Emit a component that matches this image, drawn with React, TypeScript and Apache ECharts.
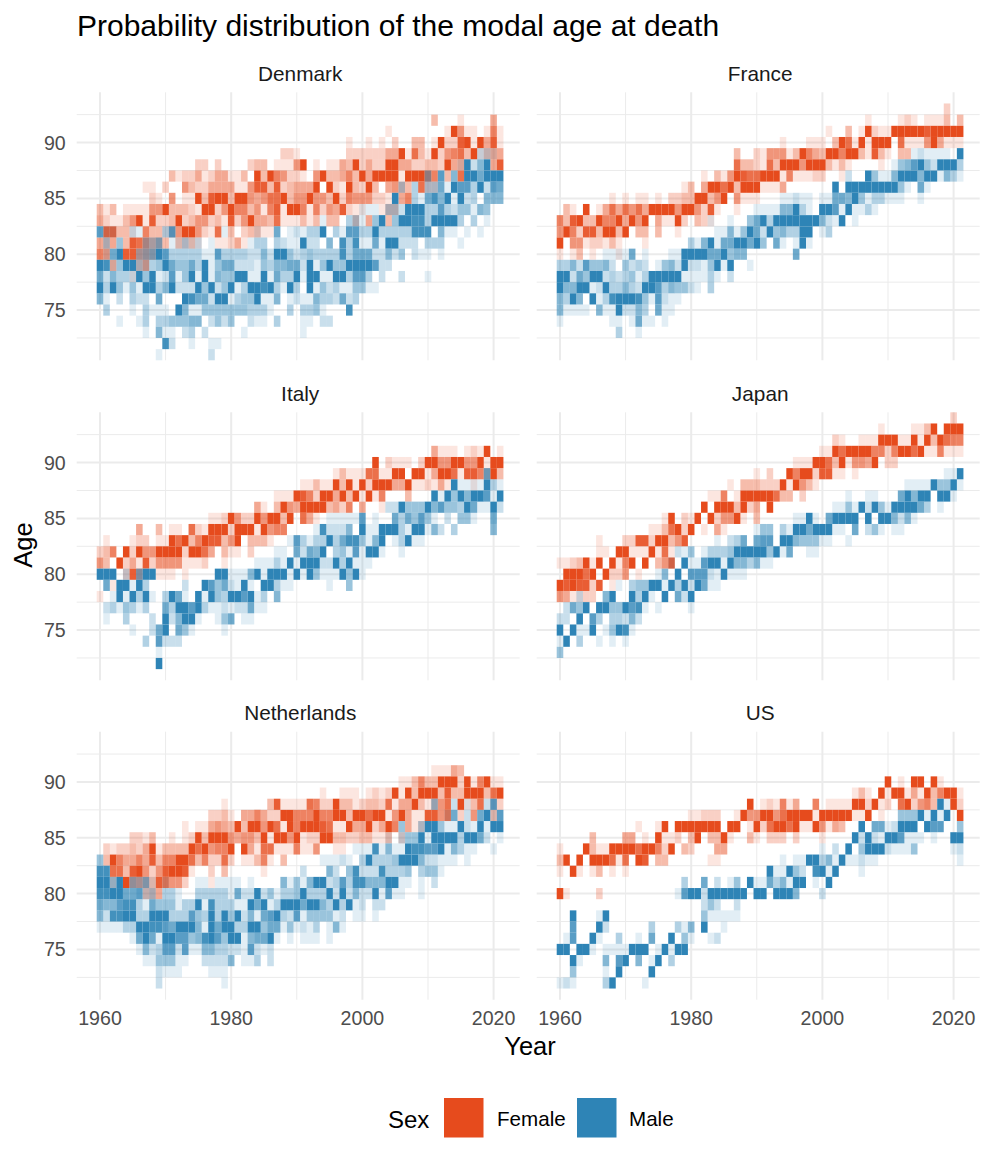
import React, { useEffect, useRef } from "react";
import * as echarts from "echarts";

// Each row: [age, "firstColumn:levels ..."]; column 0 is 1960, levels 1-9 are probability shades, "." is empty.
type Row = [number, string];

const firstYear = 1960;
const xLabels = [1960, 1980, 2000, 2020];
const yLabels = [75, 80, 85, 90];
const xMinor = [1970, 1990, 2010];
const yMinor = [72.5, 77.5, 82.5, 87.5, 92.5];

const denmarkFemale: Row[] = [
  [92, "51:3 55:1 60:4"],
  [91, "44:1 53:19511.1 60:61"],
  [90, "38:1 41:1 43:1 45:2 48:33 51:192289194 60:81"],
  [89, "28:22 30:1 38:22 40:2222449173 50:1925673913 60:44"],
  [88, "15:22 18:2 23:233 27:111 30:59.1.11439 40:2422994422 50:3329441 60:48"],
  [87, "11:312241244 20:113.939652 30:21.5933463 40:9499991999 50:76.3.7"],
  [86, "7:11 10:2..5322444 20:4115883823 30:4449.92193 40:293.4533.7 50:22"],
  [85, "8:21 10:.5.1193899 20:3995457793 30:5595539265 40:55221.46"],
  [84, "0:313.111155 10:9333219925 20:9663516819 30:9616254821 40:1..133"],
  [83, "0:4211359182 10:2392355231 20:8259443711 30:1313.33..3 41:4 44:3"],
  [82, "1:88331.633 10:135995217 20:3.23311"],
  [81, "0:434.387644 10:3.3231..11 20:241"],
  [80, "0:65..88554"],
  [79, "2:4 6:35"],
  [78, "5:1"],
];
const denmarkMale: Row[] = [
  [89, "58:22 60:1"],
  [88, "55:19259"],
  [87, "50:4.7.5.9969 60:99"],
  [86, "46:3.3 50:3361977392 60:76"],
  [85, "45:9..31 50:68591923.5 60:55"],
  [84, "40:111.332999 50:3373244154"],
  [83, "34:1...33 40:1.49.49988 50:399993.3.1"],
  [82, "0:711..21 10:37.......1 24:1..6.1 30:21339.3177 40:3393333388 50:8.511.1.1"],
  [81, "1:3.4...335 11:11312.1 23:133.321 30:1922.5.838 40:116199222 50:333..1"],
  [80, "1:169..3459 10:7333331173 20:3332252994 30:2343333836 40:6622524.21 50:1.1"],
  [79, "0:9814993234 10:9644639146 20:6222143556 30:6291494499 40:99722"],
  [78, "0:6253329491 10:2714919154 20:4991191633 30:9199119937 40:73.2..2 50:1"],
  [77, "0:9394141993 10:5922294924 20:9139989319 30:3.91423114 40:411"],
  [76, "0:51.2.322.6 13:9866299 20:13449115.1 30:2115332623"],
  [75, "1:3...1.311 10:1.95114444 20:4443331..3 31:3341...8"],
  [74, "3:1..13.3 10:344455.242 20:4..211.3 31:11.22"],
  [73, "7:1.5 10:11.23.2 22:1 31:1"],
  [72, "10:82..1..11"],
  [71, "9:1 17:2"],
];

const franceFemale: Row[] = [
  [93, "59:2"],
  [92, "47:1 52:121 56:1113 61:3"],
  [91, "41:1 44:3 46:19211 51:99999 56:8 57:99999"],
  [90, "34:1 38:11 40:1 42:397191999 52:7111594111"],
  [89, "27:3 30:2155513964 40:3996993183 50:1.33"],
  [88, "27:733 30:2173999599 40:93131....1"],
  [87, "22:1.315987 30:7999161112 40:2..1"],
  [86, "19:13.499793999 31:1114"],
  [85, "8:1 10:1 12:11 15:1 17:22 19:33 21:99 23:35 25:9 27:511 30:1"],
  [84, "1:31 4:9 6:1474757499995995281 27:1"],
  [83, "0:6389339669 10:4959.41192 20:.321"],
  [82, "0:5962883993 10:9.33.3..1"],
  [81, "0:9.55122131 13:1"],
  [80, "0:1.13.1...1"],
];
const franceMale: Row[] = [
  [89, "54:121111 61:9"],
  [88, "51:14579429993"],
  [87, "44:2 47:941159995991531"],
  [86, "42:9 44:99999999 52:41 55:61"],
  [85, "34:11211 40:1166594133111 55:1"],
  [84, "30:111155931 40:997191131"],
  [83, "23:1 26:1 29:46 31:93 33:9999999 40:5219.1"],
  [82, "24:115149 30:629453399 40:13"],
  [81, "20:3159166996 30:94.61.191"],
  [80, "7:1111 11:6 13:1 17:11 19:9999 23:669455 36:6"],
  [79, "0:335274452 10:4232.14529 20:2214919..1"],
  [78, "0:9926499232 10:3413999991 20:11131.2"],
  [77, "0:9559912933 10:5329973544 20:21.3"],
  [76, "0:5395.91389 10:998417211"],
  [75, "0:51111.5119 10:2253.611"],
  [74, "0:1 8:11 11:1611 16:1"],
  [73, "9:3 12:1"],
];

const italyFemale: Row[] = [
  [91, "51:4111 56:121 59:9 61:1"],
  [90, "42:9 44:2111.2 50:9955995591 60:99"],
  [89, "36:13111 41:7711 45:99.99 50:1499718863 60:93"],
  [88, "31:11311 36:9391 40:9299944 47:911 50:2141 57:1"],
  [87, "27:111 30:9862994939 40:1916 47:3"],
  [86, "24:41.395 30:499993426 40:4..1"],
  [85, "17:112 20:9522959939 31:741"],
  [84, "6:4..3.11.721999299919566"],
  [83, "1:1 5:122.1 10:1979369883 20:59.3331"],
  [82, "0:236.929559 10:99929974.3 20:11.2"],
  [81, "0:53.9241825 10:5551112..1"],
  [80, "4:285 9:111 13:1"],
  [79, "2:1"],
  [78, "0:1"],
];
const italyMale: Row[] = [
  [89, "59:6"],
  [88, "54:91111931"],
  [87, "51:91949599719"],
  [86, "44:229444 50:9574439611 60:92"],
  [85, "35:11111 40:7.1..63647 50:41.2.441 60:6"],
  [84, "33:182225 40:9119993199 50:152.3 60:5"],
  [83, "29:1 30:7313393688 40:4159.13911"],
  [82, "27:11 30:62659.3417 40:1991..1"],
  [81, "24:111319 30:1999229391 40:11"],
  [80, "0:999.2.599 18:99 20:1115919991 30:9194111949 40:1"],
  [79, "1:6.99193 13:2 16:9746 20:2191.99311 35:1 38:4"],
  [78, "2:1919391 10:3961.91943 20:997913.5"],
  [77, "1:2314313 10:6399793112 20:122611"],
  [76, "1:1 4:3 8:2 10:925991..14 20:6.11"],
  [75, "5:1 8:269.641 19:1"],
  [74, "7:3 9:7222"],
  [73, "9:1"],
  [72, "9:9"],
];

const japanFemale: Row[] = [
  [94, "60:2"],
  [93, "49:1 54:1139.999"],
  [92, "42:21..111 49:9991191939766"],
  [91, "40:1197999966 50:2699791161 60:11"],
  [90, "36:1119 40:973915549 50:22"],
  [89, "30:1.2..96992 40:8811.1"],
  [88, "26:1.33 30:3222919531"],
  [87, "23:116.1 28:99999 33:733.2"],
  [86, "22:9.999392 30:4.9"],
  [85, "16:19.2 20:19.925591 30:3"],
  [84, "14:113792 20:9.1.41"],
  [83, "6:1 10:2288299358"],
  [82, "6:11.9 10:91119171"],
  [81, "0:1123919.91 10:69.9.358"],
  [80, "1:999 4:79.922 10:5.1"],
  [79, "0:9898828.1"],
  [78, "0:541122"],
];
const japanMale: Row[] = [
  [89, "59:119"],
  [88, "53:111194491"],
  [87, "44:1 47:11 52:695 55:99.991"],
  [86, "42:11419294 50:1999963.1"],
  [85, "36:1191 41:69999.9.99 51:5251"],
  [84, "30:144.3199 38:69 40:9911.6.241 51:11"],
  [83, "24:1.236 30:677.995444 40:11..1"],
  [82, "18:21 20:4.13334999 30:994916..11"],
  [81, "17:1.9 20:1179919553 30:511"],
  [80, "15:15.9 20:777219111"],
  [79, "9:1.344 14:991939 20:29611"],
  [78, "3:2 7:59 11:9391.9.62 20:9"],
  [77, "1:2649.9944 10:9781.1 20:1"],
  [76, "0:22.9.73.33 10:252"],
  [75, "0:9.9119.149 10:81"],
  [74, "0:19.3..1.1 10:1"],
  [73, "0:4"],
];

const netherlandsFemale: Row[] = [
  [91, "51:111 54:43"],
  [90, "46:1136 50:3399929169 60:11"],
  [89, "34:1 37:111 41:121291939 50:9938339993 60:79"],
  [88, "19:1 26:3811 30:1176229331 40:2332714493 50:1357.9137 60:22"],
  [87, "17:223 20:1.44642299 30:6669669939 40:9799159411 50:8857.2.5 60:3"],
  [86, "13:1.11454 20:3939959719 30:6999871194 40:492496.412"],
  [85, "5:2213 11:1.1293999 20:5455391995 30:9122993322 40:33113.2"],
  [84, "1:212232491 10:3333979566 20:9.94177111 30:6115..11"],
  [83, "1:396446483 10:6699736227 20:2.11361.3"],
  [82, "2:77389525 10:89981..2.3 25:1"],
  [81, "2:2.955438 10:7552...1"],
  [80, "7:334"],
];
const netherlandsMale: Row[] = [
  [88, "51:4 54:2 56:1 59:2 60:7"],
  [87, "53:16.2.69 60:17"],
  [86, "46:4 49:3 50:9941192191 60:99"],
  [85, "44:1.2449 50:1999939962 61:1"],
  [84, "39:1 40:1181511988 50:77915311 60:1"],
  [83, "0:4 34:11121 40:3933349995 50:22111.1"],
  [82, "0:88 31:2 35:52.48 40:22283334.3 50:441"],
  [81, "0:9949.4351 10:1 15:11.11 20:11.1 28:51 30:4159923738 40:85559911.1 51:2"],
  [80, "0:889966723 10:331..33333 20:1622924133 30:4933392925 40:2291711..1"],
  [79, "0:6557883164 10:4413391833 20:3119691399 30:9699539391 40:2.22"],
  [78, "0:5288993399 10:9333743939 20:4925167932 30:71444412.1 40:1.1"],
  [77, "0:1111339988 10:7699951969 20:9339946614 30:1213.151"],
  [76, "5:16961 10:9977458974 20:99156691.1 31:111.1"],
  [75, "6:1523 10:7727115533 20:2217212"],
  [74, "7:114 10:4411..2222 20:5.113.2"],
  [73, "9:2 10:111 17:111"],
  [72, "9:2 19:1"],
];

const usFemale: Row[] = [
  [90, "50:9.1.99.91"],
  [89, "45:131.9 50:1991419369 60:91"],
  [88, "29:9 31:12 33:1614 39:6 41:1111 45:99291 50:2.792563 60:92"],
  [87, "20:11222 27:195 30:5995799991 40:99999119.1 61:9"],
  [86, "12:1 15:19 18:99 20:99999 26:99 29:1 30:9279979119 40:5143"],
  [85, "5:3 10:44.1.9112 20:39.3391 29:3 30:1.222.2 40:1"],
  [84, "0:1...931199 10:99799629.3 20:2 24:44"],
  [83, "0:39.9.99971 10:7.98.33 23:11"],
  [82, "0:1.91.13.1 10:1"],
  [80, "0:91 6:2"],
];
const usMale: Row[] = [
  [88, "58:91"],
  [87, "52:44491919"],
  [86, "46:9.66 50:12999.977 61:4"],
  [85, "45:92921 50:997111.1 60:99"],
  [84, "40:1.2.9.4999 50:21114 60:12"],
  [83, "34:1.1199 40:351911211 61:1"],
  [82, "32:9119 36:42.8 40:919...1"],
  [81, "19:3 22:6.2.14.9 30:11635199.1 41:9"],
  [80, "18:17 20:992999999 30:99.9995 40:2"],
  [79, "22:242 27:2"],
  [78, "2:9 6:19 22:411111"],
  [77, "2:7 6:92 14:3 18:315 22:9 25:1"],
  [76, "1:17 5:91 9:3 12:1 14:6 17:9 19:41 23:12"],
  [75, "0:99.991.111 10:1999.19199"],
  [74, "2:91 7:5.79 12:5 14:19 17:3"],
  [73, "2:4 7:1 9:9 14:9"],
  [72, "0:121 7:39 13:1"],
];

const panelNames = ["Denmark", "France", "Italy", "Japan", "Netherlands", "US"];
const femaleRows = [denmarkFemale, franceFemale, italyFemale, japanFemale, netherlandsFemale, usFemale];
const maleRows = [denmarkMale, franceMale, italyMale, japanMale, netherlandsMale, usMale];

const FEMALE = "#E64B1D";
const MALE = "#2E84B6";
const FONT = "'Liberation Sans', Arial, sans-serif";
const GRID_LEFT = [76.7, 536.7];
const GRID_TOP = [92.3, 412.3, 731.7];
const GRID_W = 443;
const GRID_H = 268;

function decode(rows: Row[]) {
  const out: number[][] = [];
  rows.forEach(([age, text]) => {
    text.split(" ").forEach((token) => {
      const [start, levels] = token.split(":");
      [...levels].forEach((ch, i) => {
        if (ch !== ".") out.push([firstYear + Number(start) + i, age, Math.pow(Number(ch) / 9, 0.9)]);
      });
    });
  });
  return out;
}

function tileSeries(rows: Row[], color: string, gridIndex: number, z: number) {
  return {
    type: "custom",
    xAxisIndex: gridIndex,
    yAxisIndex: gridIndex,
    silent: true,
    z,
    clip: false,
    encode: { x: 0, y: 1 },
    data: decode(rows),
    renderItem: (_: any, api: any) => {
      const x = api.value(0);
      const y = api.value(1);
      const a = api.coord([x - 0.5, y + 0.5]);
      const b = api.coord([x + 0.5, y - 0.5]);
      return {
        type: "rect",
        shape: { x: a[0], y: a[1], width: b[0] - a[0], height: b[1] - a[1] },
        style: { fill: color, opacity: api.value(2) },
      };
    },
  };
}

function gridSeries(gridIndex: number) {
  const lines: number[][] = [
    ...xLabels.map((v) => [0, v, 1]),
    ...xMinor.map((v) => [0, v, 0]),
    ...yLabels.map((v) => [1, v, 1]),
    ...yMinor.map((v) => [1, v, 0]),
  ];
  return {
    type: "custom",
    xAxisIndex: gridIndex,
    yAxisIndex: gridIndex,
    silent: true,
    z: 1,
    clip: false,
    encode: { x: 1 },
    data: lines,
    renderItem: (params: any, api: any) => {
      const sys = params.coordSys;
      const vertical = api.value(0) === 0;
      const v = api.value(1);
      const p = vertical ? api.coord([v, 80])[0] : api.coord([1990, v])[1];
      return {
        type: "line",
        shape: vertical
          ? { x1: p, y1: sys.y, x2: p, y2: sys.y + sys.height }
          : { x1: sys.x, y1: p, x2: sys.x + sys.width, y2: p },
        style: { stroke: "#EBEBEB", lineWidth: api.value(2) ? 2 : 1 },
      };
    },
  };
}

function text(x: number, y: number, value: string, size: number, fill: string, align = "left", rotation = 0) {
  return {
    type: "text",
    x,
    y,
    rotation,
    silent: true,
    style: { text: value, fontSize: size, fontFamily: FONT, fill, align, verticalAlign: "middle" },
  };
}

export default function App() {
  const ref = useRef<HTMLDivElement>(null);
  useEffect(() => {
    document.body.style.margin = "0";
    const chart = echarts.init(ref.current!, undefined, { renderer: "svg" });
    const grids: any[] = [];
    const xAxes: any[] = [];
    const yAxes: any[] = [];
    const series: any[] = [];
    const strips: any[] = [];
    panelNames.forEach((name, i) => {
      const col = i % 2;
      const row = Math.floor(i / 2);
      grids.push({ left: GRID_LEFT[col], top: GRID_TOP[row], width: GRID_W, height: GRID_H, containLabel: false });
      xAxes.push({
        type: "value",
        gridIndex: i,
        min: 1956.45,
        max: 2023.98,
        axisLine: { show: false },
        axisTick: { show: false },
        splitLine: { show: false },
        axisLabel: {
          show: row === 2,
          customValues: xLabels,
          margin: 8,
          fontSize: 19.6,
          fontFamily: FONT,
          color: "#4D4D4D",
          formatter: (v: number) => String(v),
        },
      });
      yAxes.push({
        type: "value",
        gridIndex: i,
        min: 70.5,
        max: 94.5,
        axisLine: { show: false },
        axisTick: { show: false },
        splitLine: { show: false },
        axisLabel: {
          show: col === 0,
          customValues: yLabels,
          margin: 11,
          fontSize: 19.6,
          fontFamily: FONT,
          color: "#4D4D4D",
          formatter: (v: number) => String(v),
        },
      });
      series.push(gridSeries(i));
      series.push(tileSeries(femaleRows[i], FEMALE, i, 2));
      series.push(tileSeries(maleRows[i], MALE, i, 3));
      strips.push(text(GRID_LEFT[col] + GRID_W / 2 + 2, GRID_TOP[row] - 19, name, 20.8, "#1A1A1A", "center"));
    });
    chart.setOption({
      animation: false,
      backgroundColor: "#FFFFFF",
      grid: grids,
      xAxis: xAxes,
      yAxis: yAxes,
      series,
      graphic: [
        text(77, 25, "Probability distribution of the modal age at death", 30, "#000000"),
        ...strips,
        text(530, 1046, "Year", 25.5, "#000000", "center"),
        text(23, 545, "Age", 25.5, "#000000", "center", Math.PI / 2),
        text(388, 1119, "Sex", 24, "#000000"),
        { type: "rect", silent: true, shape: { x: 444, y: 1098, width: 39.5, height: 39.5 }, style: { fill: FEMALE } },
        text(497, 1118, "Female", 20.6, "#000000"),
        { type: "rect", silent: true, shape: { x: 577, y: 1098, width: 39.5, height: 39.5 }, style: { fill: MALE } },
        text(629, 1118, "Male", 20.6, "#000000"),
      ],
    });
    return () => chart.dispose();
  }, []);
  return <div ref={ref} style={{ width: 997, height: 1163 }} />;
}
